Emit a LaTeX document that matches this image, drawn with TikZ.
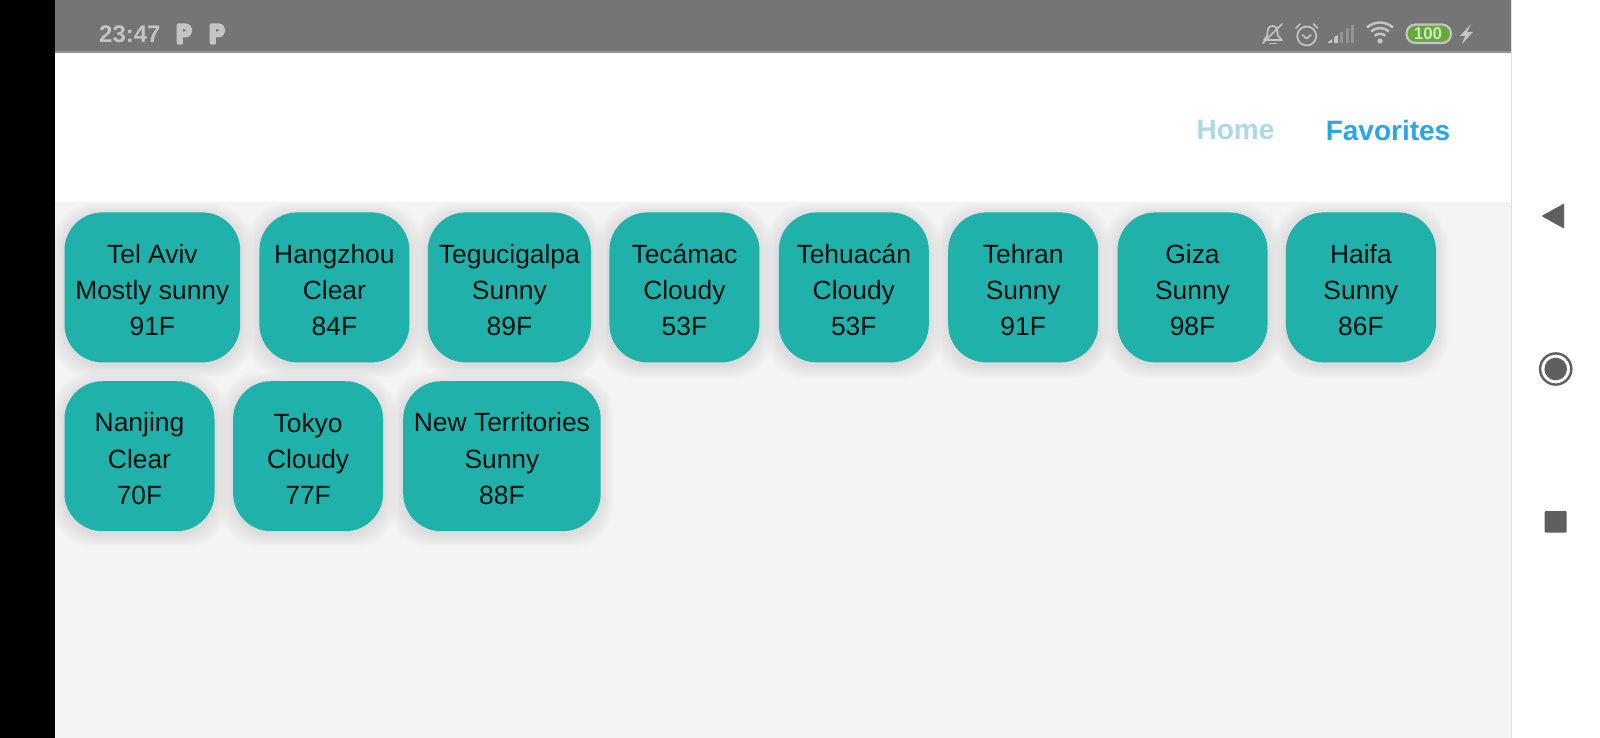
\documentclass[tikz,border=0pt]{standalone}
\usepackage{fontspec}
\setmainfont{Liberation Sans}
\newfontfamily\iconfont{Poppins}[FakeBold=16]
\usetikzlibrary{calc}
\definecolor{statusgrey}{HTML}{757575}
\definecolor{statusline}{HTML}{949494}
\definecolor{statustext}{HTML}{C4C4C4}
\definecolor{pagegrey}{HTML}{F4F4F4}
\definecolor{cardteal}{HTML}{20B2AA}
\definecolor{homeblue}{HTML}{ADD8E6}
\definecolor{favblue}{HTML}{2BA4E8}
\definecolor{navgrey}{HTML}{5F5F5F}
\definecolor{batgreen}{HTML}{67A83B}
\definecolor{batlight}{HTML}{CDE8B5}
\definecolor{dimbar}{HTML}{949494}
\tikzset{
  x=1pt,y=-1pt,
  cardbox/.style={fill=cardteal,rounded corners=38pt,minimum height=150pt,inner sep=0pt},
  cardtext/.style={inner sep=0pt,align=center,text=black!92!cardteal,font=\fontsize{26.4}{36.2}\selectfont},
  navlink/.style={font=\fontsize{28}{30}\selectfont\bfseries,inner sep=0pt,anchor=center},
  statusicon/.style={draw=statustext,line width=1.7pt,line cap=round,line join=round},
  navshape/.style={fill=navgrey},
}
% #1 name, #2 left, #3 right, #4 top, #5 text
\newcommand{\weathercard}[5]{%
  \foreach \k in {1,...,12}{
    \fill[black,opacity=0.009,rounded corners=40pt]
      (#2-\k*1.1,#4-\k*1.0+3) rectangle (#3+\k*1.1,#4+150+\k*1.1+3);
  }
  \node[cardbox,minimum width={(#3-#2)*1pt},anchor=north west] (#1) at (#2,#4) {};
  \node[cardtext] (#1-label) at ($(#1.center)+(0,2.5)$) {#5};
}
\begin{document}
\begin{tikzpicture}
\useasboundingbox (0,0) rectangle (1600,738);
% panels
\fill[white] (0,0) rectangle (1600,738);
\fill[pagegrey] (54.5,202) rectangle (1511.5,738);
\fill[black] (0,0) rectangle (54.5,738);
\fill[statusgrey] (54.5,0) rectangle (1511.5,52);
\fill[statusline] (54.5,51.4) rectangle (1511.5,52.6);
\fill[black!12] (1511,0) rectangle (1512,738);
% status bar left
\node[font=\fontsize{24}{26}\selectfont\bfseries,text=statustext,inner sep=0pt,anchor=base west] (clock) at (99,42.5) {23:47};
\begin{scope}[line join=round,line cap=round]
\node[font=\fontsize{25}{26}\iconfont,text=statustext,inner sep=0pt,anchor=center] (pa) at (184,34) {P};
\node[font=\fontsize{25}{26}\iconfont,text=statustext,inner sep=0pt,anchor=center] (pb) at (217,34) {P};
\end{scope}
% bell with slash
\draw[statusicon,line width=1.7pt] (1264,40) -- (1267,36) -- (1268,29) .. controls (1269,25) and (1276,25) .. (1277,29) -- (1278,36) -- (1282,40) -- cycle;
\draw[statusicon,line width=1.7pt] (1270,43.5) -- (1276,43.5);
\draw[statusicon,line width=1.7pt] (1263,43) -- (1282,24);
% alarm
\draw[statusicon,line width=1.7pt] (1306.7,36) circle (9.5);
\draw[statusicon,line width=1.6pt] (1302.5,35) -- (1306.5,38.5) -- (1311,35);
\draw[statusicon,line width=1.7pt] (1296,28) -- (1300,24);
\draw[statusicon,line width=1.7pt] (1313.5,24) -- (1317.5,28);
% signal
\fill[statustext] (1328,43) -- (1332,43) -- (1332,39) -- (1328,42) -- cycle;
\fill[statustext] (1334,43) -- (1338,43) -- (1338,35) -- (1334,37) -- cycle;
\fill[dimbar] (1340,43) rectangle (1343,32);
\fill[dimbar] (1345.5,43) rectangle (1348.5,28);
\fill[dimbar] (1351,43) rectangle (1354,25);
% wifi
\fill[statustext] (1380,41) circle (2.6);
\draw[statusicon,line width=2.5pt,line cap=butt] (1374.6,35.8) arc[start angle=-132,end angle=-48,radius=8];
\draw[statusicon,line width=2.5pt,line cap=butt] (1371,31.5) arc[start angle=-132,end angle=-48,radius=13.5];
\draw[statusicon,line width=2.5pt,line cap=butt] (1367,27.5) arc[start angle=-132,end angle=-48,radius=19.4];
% battery
\draw[fill=batgreen,draw=statustext,line width=2.2pt,rounded corners=9pt] (1406.5,24.5) rectangle (1451,43);
\node[font=\fontsize{17}{18}\selectfont\bfseries,text=batlight,inner sep=0pt] (battery) at (1428,34) {100};
% bolt
\fill[statustext] (1471,24) -- (1460,36) -- (1465,36) -- (1462,44) -- (1473,32) -- (1467,32) -- cycle;
% navigation links
\node[navlink,text=homeblue] (home) at (1235.5,130) {Home};
\node[navlink,text=favblue] (favorites) at (1388,130) {Favorites};
% cards
\weathercard{telaviv}{64.3}{240}{212.2}{Tel Aviv\\Mostly sunny\\91F}
\weathercard{hangzhou}{259.2}{409.2}{212.2}{Hangzhou\\Clear\\84F}
\weathercard{tegucigalpa}{427.6}{590.8}{212.2}{Tegucigalpa\\Sunny\\89F}
\weathercard{tecamac}{609.2}{759.2}{212.2}{Tecámac\\Cloudy\\53F}
\weathercard{tehuacan}{778.6}{928.6}{212.2}{Tehuacán\\Cloudy\\53F}
\weathercard{tehran}{948}{1098}{212.2}{Tehran\\Sunny\\91F}
\weathercard{giza}{1117.3}{1267.3}{212.2}{Giza\\Sunny\\98F}
\weathercard{haifa}{1285.7}{1435.7}{212.2}{Haifa\\Sunny\\86F}
\weathercard{nanjing}{64.3}{214.3}{381}{Nanjing\\Clear\\70F}
\weathercard{tokyo}{232.9}{382.9}{381}{Tokyo\\Cloudy\\77F}
\weathercard{newterritories}{403}{600.5}{381}{New Territories\\Sunny\\88F}
% android navigation
\fill[navshape,rounded corners=1pt] (1541.5,216) -- (1564,203.5) -- (1564,228.6) -- cycle;
\draw[navgrey,line width=2.4pt] (1555.7,369) circle (15.6);
\fill[navshape] (1555.7,369) circle (11.3);
\fill[navshape,rounded corners=1pt] (1544.7,511) rectangle (1566.7,532.7);
\end{tikzpicture}
\end{document}
